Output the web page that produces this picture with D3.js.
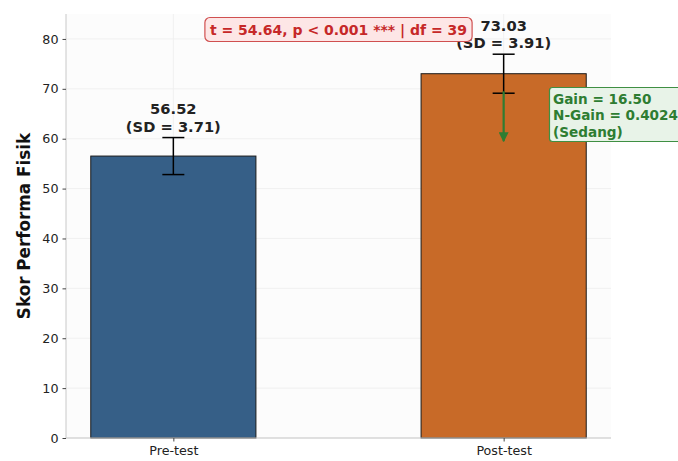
<!DOCTYPE html>
<html>
<head>
<meta charset="utf-8">
<script src="https://cdn.jsdelivr.net/npm/d3@7"></script>
<style>
  body { margin: 0; background: #ffffff; }
  svg { display: block; font-family: "DejaVu Sans", sans-serif; }
</style>
</head>
<body>
<svg id="chart" width="678" height="461"></svg>
<script>
// Pre/post test scores
const categories = ["Pre-test", "Post-test"];
const means = [56.52, 73.03];
const sds = [3.71, 3.91];
const barColors = ["#365f87", "#c86a28"];
const yTicks = [0, 10, 20, 30, 40, 50, 60, 70, 80];
const statsText = "t = 54.64, p < 0.001 *** | df = 39";
const gainLines = ["Gain = 16.50", "N-Gain = 0.4024", "(Sedang)"];
const gainArrow = [69.5, 59.5]; // from, to (score units)

const svg = d3.select("#chart");
const m = { left: 66, right: 611, top: 14, bottom: 438 };

const x = d3.scaleLinear().domain([-0.325, 1.325]).range([m.left, m.right]);
const y = d3.scaleLinear().domain([0, 85]).range([m.bottom, m.top]);
const barW = x(0.25) - x(-0.25);

// plot background
svg.append("rect").attr("x", m.left).attr("y", m.top)
  .attr("width", m.right - m.left).attr("height", m.bottom - m.top)
  .attr("fill", "#fcfcfc");

// grid
const grid = svg.append("g").attr("stroke", "#ededed").attr("stroke-width", 0.8);
grid.selectAll("line.h").data(yTicks).join("line")
  .attr("x1", m.left).attr("x2", m.right)
  .attr("y1", d => y(d)).attr("y2", d => y(d));
grid.selectAll("line.v").data(categories).join("line")
  .attr("x1", (d, i) => x(i)).attr("x2", (d, i) => x(i))
  .attr("y1", m.top).attr("y2", m.bottom);

// bars
svg.selectAll("rect.bar").data(means).join("rect")
  .attr("class", "bar")
  .attr("x", (d, i) => x(i) - barW / 2)
  .attr("y", d => y(d))
  .attr("width", barW)
  .attr("height", d => y(0) - y(d))
  .attr("fill", (d, i) => barColors[i])
  .attr("stroke", "#1a1a1a").attr("stroke-width", 1);

// error bars
const eb = svg.append("g").attr("stroke", "#000").attr("stroke-width", 1.5);
means.forEach((mu, i) => {
  const cx = x(i), lo = y(mu - sds[i]), hi = y(mu + sds[i]);
  eb.append("line").attr("x1", cx).attr("x2", cx).attr("y1", lo).attr("y2", hi);
  eb.append("line").attr("x1", cx - 11).attr("x2", cx + 11).attr("y1", lo).attr("y2", lo);
  eb.append("line").attr("x1", cx - 11).attr("x2", cx + 11).attr("y1", hi).attr("y2", hi);
});

// axes
const yAxis = svg.append("g").attr("transform", `translate(${m.left},0)`)
  .call(d3.axisLeft(y).tickValues(yTicks).tickSize(3.5).tickPadding(4));
const xAxis = svg.append("g").attr("transform", `translate(0,${m.bottom})`)
  .call(d3.axisBottom(x).tickValues([0, 1]).tickFormat(i => categories[i]).tickSize(3.5).tickPadding(4));
[yAxis, xAxis].forEach(a => {
  a.select(".domain").attr("stroke", "#c8c8c8").attr("stroke-width", 1);
  a.selectAll(".tick line").attr("stroke", "#444");
  a.selectAll(".tick text").attr("font-family", "DejaVu Sans").attr("font-size", 12.7).attr("fill", "#222");
});
yAxis.select(".domain").attr("d", `M0,${m.bottom}V${m.top}`);
xAxis.select(".domain").attr("d", `M${m.left},0H${m.right}`);

// y label
svg.append("text")
  .attr("transform", `translate(30,${(m.top + m.bottom) / 2}) rotate(-90)`)
  .attr("text-anchor", "middle").attr("font-size", 16.8).attr("font-weight", "bold")
  .attr("fill", "#111").text("Skor Performa Fisik");

// gain arrow
svg.append("defs").append("marker")
  .attr("id", "arrowhead").attr("viewBox", "0 0 10 10")
  .attr("refX", 9).attr("refY", 5).attr("markerWidth", 4.5).attr("markerHeight", 4.5)
  .attr("orient", "auto")
  .append("path").attr("d", "M0,0L10,5L0,10z").attr("fill", "#2e7d32");
svg.append("line")
  .attr("x1", x(1)).attr("x2", x(1))
  .attr("y1", y(gainArrow[0])).attr("y2", y(gainArrow[1]))
  .attr("stroke", "#2e7d32").attr("stroke-width", 2.2)
  .attr("marker-end", "url(#arrowhead)");

// value labels
means.forEach((mu, i) => {
  const top = y(mu + sds[i]) - 6;
  const t = svg.append("text").attr("text-anchor", "middle")
    .attr("font-size", 14.7).attr("font-weight", "bold").attr("fill", "#222");
  t.append("tspan").attr("x", x(i)).attr("y", top - 17.5).text(mu.toFixed(2));
  t.append("tspan").attr("x", x(i)).attr("y", top).text(`(SD = ${sds[i].toFixed(2)})`);
});

// gain box
const gb = svg.append("g");
gb.append("rect").attr("x", 549.5).attr("y", 87.5).attr("width", 145).attr("height", 54)
  .attr("rx", 3).attr("fill", "#e8f3e8").attr("stroke", "#3f8f43").attr("stroke-width", 1.2);
const gt = gb.append("text").attr("font-size", 13.6).attr("font-weight", "bold").attr("fill", "#2e7d32");
gainLines.forEach((s, i) => gt.append("tspan").attr("x", 553).attr("y", 103.5 + i * 16.8).text(s));

// stats box
const sx = (m.left + m.right) / 2;
const sg = svg.append("g");
const sbox = sg.append("rect");
const st = sg.append("text").attr("x", sx).attr("y", 34.5).attr("text-anchor", "middle")
  .attr("font-size", 14).attr("font-weight", "bold").attr("fill", "#c62828").text(statsText);
const bb = st.node().getBBox();
sbox.attr("x", bb.x - 5).attr("y", 17.5).attr("width", bb.width + 10).attr("height", 24)
  .attr("rx", 5).attr("fill", "#fde6e6").attr("stroke", "#d05050").attr("stroke-width", 1.2);
</script>
</body>
</html>
